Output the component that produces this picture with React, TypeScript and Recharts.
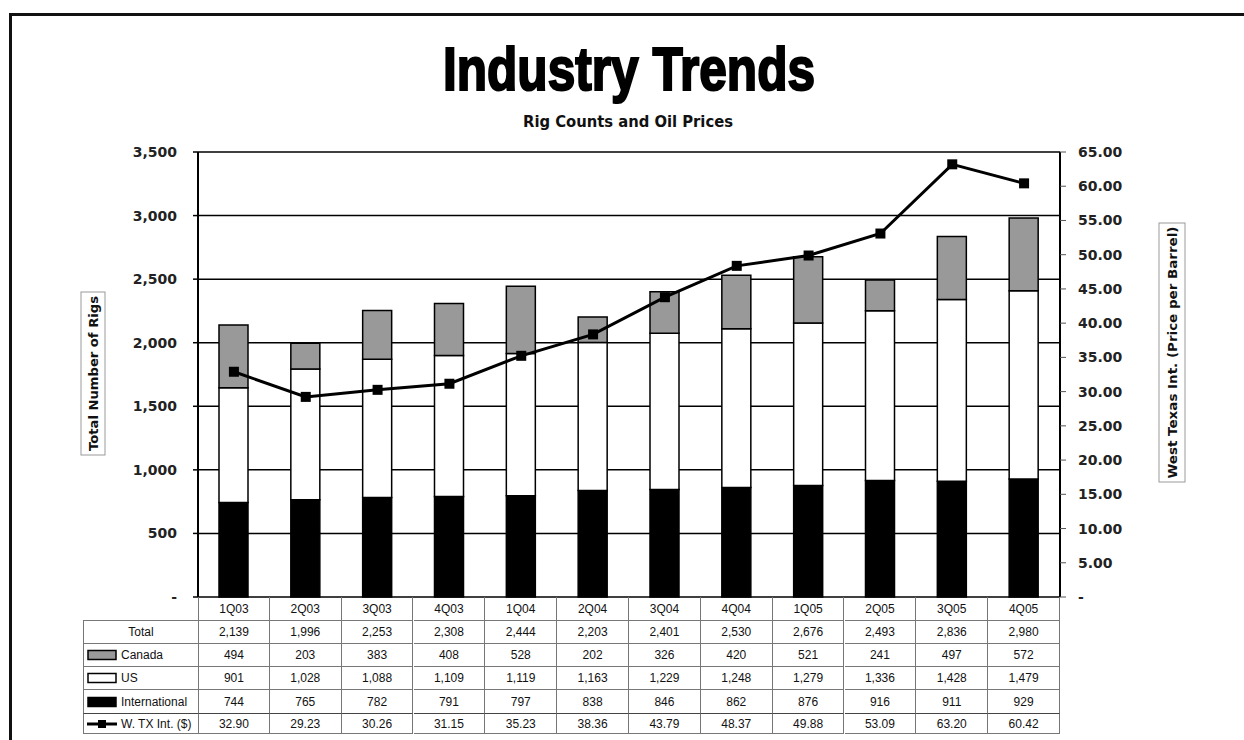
import React from "react";
import { Bar, CartesianGrid, ComposedChart, Line, XAxis, YAxis } from "recharts";

const quarters = ["1Q03", "2Q03", "3Q03", "4Q03", "1Q04", "2Q04", "3Q04", "4Q04", "1Q05", "2Q05", "3Q05", "4Q05"];
const canada = [494, 203, 383, 408, 528, 202, 326, 420, 521, 241, 497, 572];
const us = [901, 1028, 1088, 1109, 1119, 1163, 1229, 1248, 1279, 1336, 1428, 1479];
const international = [744, 765, 782, 791, 797, 838, 846, 862, 876, 916, 911, 929];
const totals = [2139, 1996, 2253, 2308, 2444, 2203, 2401, 2530, 2676, 2493, 2836, 2980];
const wti = [32.9, 29.23, 30.26, 31.15, 35.23, 38.36, 43.79, 48.37, 49.88, 53.09, 63.2, 60.42];

const rigTicks = [0, 500, 1000, 1500, 2000, 2500, 3000, 3500];
const priceTicks = [0, 5, 10, 15, 20, 25, 30, 35, 40, 45, 50, 55, 60, 65];

const data = quarters.map((q, i) => ({
  q,
  international: international[i],
  us: us[i],
  canada: canada[i],
  wti: wti[i],
}));

// plot box (px)
const PL = 198;
const PR = 1060;
const PT = 152;
const PB = 597;
const COL = (PR - PL) / quarters.length;

const bold = "'DejaVu Sans', Verdana, sans-serif";
const narrow = "'Liberation Sans Narrow', 'Arial Narrow', 'Liberation Sans', sans-serif";
const grid = "#777";

const fmtInt = (v: number) => v.toLocaleString("en-US");

function Square(props: any) {
  const { cx, cy, index } = props;
  if (cx == null || cy == null) return <g key={index} />;
  return <rect key={index} x={cx - 5} y={cy - 5} width={10} height={10} fill="#000" />;
}

function Swatch({ kind }: { kind: string }) {
  if (kind === "line") {
    return (
      <svg width={30} height={12} style={{ display: "block" }}>
        <line x1={0} y1={6} x2={30} y2={6} stroke="#000" strokeWidth={3} />
        <rect x={11} y={2} width={8} height={8} fill="#000" />
      </svg>
    );
  }
  const fill = kind === "canada" ? "#999" : kind === "us" ? "#fff" : "#000";
  return (
    <svg width={30} height={12} style={{ display: "block" }}>
      <rect x={1} y={1.5} width={28} height={9} fill={fill} stroke="#000" strokeWidth={1.5} />
    </svg>
  );
}

const tableRows = [
  { label: "Total", kind: "", values: totals.map(fmtInt), top: 620, h: 23 },
  { label: "Canada", kind: "canada", values: canada.map(fmtInt), top: 643, h: 23 },
  { label: "US", kind: "us", values: us.map(fmtInt), top: 666, h: 23 },
  { label: "International", kind: "intl", values: international.map(fmtInt), top: 689, h: 24 },
  { label: "W. TX Int. ($)", kind: "line", values: wti.map((v) => v.toFixed(2)), top: 713, h: 21 },
];

function DataTable() {
  const cell = (left: number, top: number, w: number, h: number, extra: React.CSSProperties = {}) => ({
    position: "absolute" as const,
    left,
    top,
    width: w,
    height: h,
    boxSizing: "border-box" as const,
    display: "flex",
    alignItems: "center",
    justifyContent: "center",
    fontFamily: narrow,
    fontSize: 12,
    color: "#111",
    ...extra,
  });
  return (
    <>
      {quarters.map((q, i) => (
        <div
          key={q}
          style={cell(PL + i * COL, PB, COL, 23, {
            borderRight: `1px solid ${grid}`,
            borderLeft: i === 0 ? `1px solid ${grid}` : undefined,
          })}
        >
          {q}
        </div>
      ))}
      {tableRows.map((r) => (
        <React.Fragment key={r.label}>
          <div
            style={cell(83, r.top, PL - 83, r.h, {
              borderLeft: `1px solid ${grid}`,
              borderTop: `1px solid ${r.kind === "line" ? "#444" : grid}`,
              borderBottom: r.kind === "line" ? `1px solid ${grid}` : undefined,
              justifyContent: r.kind ? "flex-start" : "center",
              paddingLeft: r.kind ? 3 : 0,
              gap: 4,
            })}
          >
            {r.kind ? <Swatch kind={r.kind} /> : null}
            <span>{r.label}</span>
          </div>
          {r.values.map((v, i) => (
            <div
              key={i}
              style={cell(PL + i * COL, r.top, COL, r.h, {
                borderLeft: i === 0 ? `1px solid ${grid}` : undefined,
                borderRight: `1px solid ${grid}`,
                borderTop: `1px solid ${r.kind === "line" ? "#444" : grid}`,
                borderBottom: r.kind === "line" ? `1px solid ${grid}` : undefined,
              })}
            >
              {v}
            </div>
          ))}
        </React.Fragment>
      ))}
    </>
  );
}

export default function App() {
  return (
    <div style={{ position: "absolute", left: 0, top: 0, width: 1244, height: 740, background: "#fff", overflow: "hidden" }}>
      <div
        style={{
          position: "absolute",
          left: 9,
          top: 13,
          width: 1300,
          height: 800,
          borderTop: "3px solid #111",
          borderLeft: "3px solid #111",
        }}
      />
      <div style={{ position: "absolute", left: 0, top: 0 }}>
        <ComposedChart width={1244} height={740} data={data} margin={{ top: PT, bottom: 740 - PB, left: PL - 60, right: 1244 - PR - 80 }}>
          <CartesianGrid yAxisId="left" vertical={false} stroke="#000" strokeWidth={1.5} />
          <XAxis dataKey="q" hide />
          <YAxis
            yAxisId="left"
            width={60}
            domain={[0, 3500]}
            ticks={rigTicks}
            tickFormatter={(v: number) => (v === 0 ? "-" : fmtInt(v))}
            axisLine={{ stroke: "#000", strokeWidth: 2 }}
            tickLine={{ stroke: "#000", strokeWidth: 1.5 }}
            tickSize={5}
            tickMargin={16}
            tick={{ fill: "#222", fontSize: 14, fontWeight: 700, fontFamily: bold }}
          />
          <YAxis
            yAxisId="right"
            orientation="right"
            width={80}
            domain={[0, 65]}
            ticks={priceTicks}
            tickFormatter={(v: number) => (v === 0 ? "-" : v.toFixed(2))}
            axisLine={{ stroke: "#000", strokeWidth: 2 }}
            tickLine={{ stroke: "#555", strokeWidth: 1 }}
            tickSize={6}
            tickMargin={12}
            tick={{ fill: "#222", fontSize: 14, fontWeight: 700, fontFamily: bold, textAnchor: "start" }}
          />
          <Bar yAxisId="left" dataKey="international" stackId="rigs" fill="#000" stroke="#000" strokeWidth={1.5} barSize={29} isAnimationActive={false} />
          <Bar yAxisId="left" dataKey="us" stackId="rigs" fill="#fff" stroke="#000" strokeWidth={1.5} barSize={29} isAnimationActive={false} />
          <Bar yAxisId="left" dataKey="canada" stackId="rigs" fill="#999" stroke="#000" strokeWidth={1.5} barSize={29} isAnimationActive={false} />
          <Line yAxisId="right" dataKey="wti" stroke="#000" strokeWidth={3} dot={<Square />} activeDot={false} isAnimationActive={false} />
        </ComposedChart>
      </div>
      <svg width={1244} height={740} style={{ position: "absolute", left: 0, top: 0, pointerEvents: "none" }}>
        <text
          x={443}
          y={90}
          textLength={372}
          lengthAdjust="spacingAndGlyphs"
          fontFamily={narrow}
          fontWeight={700}
          fontSize={62}
          fill="#000"
          stroke="#000"
          strokeWidth={2.2}
        >
          Industry Trends
        </text>
        <text
          x={523}
          y={127}
          textLength={210}
          lengthAdjust="spacingAndGlyphs"
          fontFamily="'DejaVu Sans Condensed', 'DejaVu Sans', sans-serif"
          fontWeight={700}
          fontSize={16}
          fill="#111"
        >
          Rig Counts and Oil Prices
        </text>
        <rect x={81} y={292} width={24} height={163} fill="#fff" stroke="#999" strokeWidth={1} />
        <text
          transform="translate(98 373.5) rotate(-90)"
          textAnchor="middle"
          textLength={155}
          lengthAdjust="spacingAndGlyphs"
          fontFamily={bold}
          fontWeight={700}
          fontSize={12}
          fill="#111"
        >
          Total Number of Rigs
        </text>
        <rect x={1159} y={223} width={26} height={259} fill="#fff" stroke="#999" strokeWidth={1} />
        <text
          transform="translate(1177 352.5) rotate(-90)"
          textAnchor="middle"
          textLength={252}
          lengthAdjust="spacingAndGlyphs"
          fontFamily={bold}
          fontWeight={700}
          fontSize={12}
          fill="#111"
        >
          West Texas Int. (Price per Barrel)
        </text>
      </svg>
      <DataTable />
    </div>
  );
}
